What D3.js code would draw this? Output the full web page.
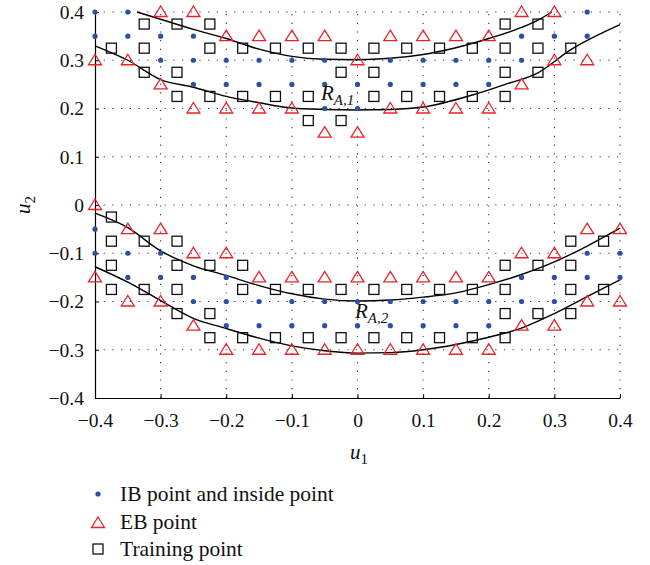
<!DOCTYPE html>
<html>
<head>
<meta charset="utf-8">
<script src="https://cdn.jsdelivr.net/npm/d3@7"></script>
<style>
  body { margin: 0; background: #fff; }
  svg text { font-family: "Liberation Serif", "DejaVu Serif", serif; fill: #111; }
</style>
</head>
<body>
<div id="chart"></div>
<script>
var width = 650, height = 565;

// rows: [u2, [u1 values]]
var ibRows = [
  [0.4, [-0.4, -0.35, 0.35]],
  [0.35, [-0.4, -0.35, -0.3, -0.25, 0.25, 0.3, 0.35]],
  [0.3, [-0.3, -0.25, -0.2, -0.15, -0.1, -0.05, 0.05, 0.1, 0.15, 0.2, 0.25]],
  [0.25, [-0.25, -0.2, -0.15, -0.1, -0.05, 0, 0.05, 0.1, 0.15, 0.2]],
  [0.2, [-0.05, 0]],
  [-0.05, [-0.4]],
  [-0.1, [-0.4, -0.35, -0.3, 0.35, 0.4]],
  [-0.15, [-0.35, -0.3, -0.25, -0.2, 0.25, 0.3, 0.35, 0.4]],
  [-0.2, [-0.25, -0.2, -0.15, -0.1, -0.05, 0, 0.05, 0.1, 0.15, 0.2, 0.25, 0.3]],
  [-0.25, [-0.2, -0.15, -0.1, -0.05, 0, 0.05, 0.1, 0.15, 0.2]]
];

var ebRows = [
  [0.4, [-0.3, -0.25, 0.25, 0.3]],
  [0.35, [-0.2, -0.15, -0.1, -0.05, 0.05, 0.1, 0.15, 0.2]],
  [0.3, [-0.4, -0.35, 0, 0.3, 0.35]],
  [0.25, [-0.3, 0.25]],
  [0.2, [-0.25, -0.2, -0.15, -0.1, 0.05, 0.1, 0.15, 0.2]],
  [0.15, [-0.05, 0]],
  [0, [-0.4]],
  [-0.05, [-0.35, -0.3, 0.35, 0.4]],
  [-0.1, [-0.25, -0.2, 0.25, 0.3]],
  [-0.15, [-0.4, -0.15, -0.1, -0.05, 0, 0.05, 0.1, 0.15, 0.2]],
  [-0.2, [-0.35, -0.3, 0.35, 0.4]],
  [-0.25, [-0.25, 0.25, 0.3]],
  [-0.3, [-0.2, -0.15, -0.1, -0.05, 0, 0.05, 0.1, 0.15, 0.2]]
];

var trainRows = [
  [0.375, [-0.325, -0.275, -0.225, 0.225, 0.275]],
  [0.325, [-0.375, -0.325, -0.225, -0.175, -0.125, -0.075, -0.025, 0.025, 0.075, 0.125, 0.175, 0.225, 0.275, 0.325]],
  [0.275, [-0.325, -0.275, -0.025, 0.025, 0.225, 0.275]],
  [0.225, [-0.275, -0.225, -0.175, -0.125, -0.075, 0.025, 0.075, 0.125, 0.175, 0.225]],
  [0.175, [-0.075, -0.025]],
  [-0.025, [-0.375]],
  [-0.075, [-0.375, -0.325, -0.275, 0.325, 0.375]],
  [-0.125, [-0.375, -0.275, -0.225, -0.175, 0.225, 0.275, 0.325]],
  [-0.175, [-0.375, -0.325, -0.275, -0.175, -0.125, -0.075, -0.025, 0.025, 0.075, 0.125, 0.175, 0.225, 0.325, 0.375]],
  [-0.225, [-0.275, -0.225, 0.225, 0.275, 0.325]],
  [-0.275, [-0.225, -0.175, -0.125, -0.075, -0.025, 0.025, 0.075, 0.125, 0.175, 0.225]]
];

// boundary curves [u1, u2]
var curveA1top = [[-0.336, 0.4], [-0.3, 0.385], [-0.25, 0.364], [-0.2, 0.345], [-0.15, 0.323], [-0.1, 0.308],
  [-0.05, 0.302], [0, 0.301], [0.05, 0.304], [0.1, 0.312], [0.15, 0.326], [0.2, 0.345], [0.25, 0.368], [0.275, 0.383], [0.296, 0.4]];
var curveA1bot = [[-0.4, 0.33], [-0.35, 0.3], [-0.3, 0.26], [-0.25, 0.244], [-0.2, 0.225], [-0.15, 0.212], [-0.1, 0.201],
  [-0.05, 0.198], [0, 0.197], [0.05, 0.198], [0.1, 0.203], [0.175, 0.228], [0.225, 0.25], [0.275, 0.274], [0.325, 0.322], [0.4, 0.374]];
var curveA2top = [[-0.4, -0.017], [-0.35, -0.047], [-0.3, -0.095], [-0.25, -0.126], [-0.2, -0.146], [-0.15, -0.167],
  [-0.1, -0.184], [-0.05, -0.195], [0, -0.199], [0.05, -0.197], [0.1, -0.191], [0.15, -0.182], [0.2, -0.165], [0.25, -0.144], [0.3, -0.118], [0.35, -0.085], [0.4, -0.048]];
var curveA2bot = [[-0.4, -0.128], [-0.35, -0.16], [-0.3, -0.198], [-0.25, -0.235], [-0.2, -0.256], [-0.15, -0.276],
  [-0.1, -0.292], [-0.05, -0.302], [0, -0.307], [0.05, -0.306], [0.1, -0.3], [0.15, -0.289], [0.2, -0.274], [0.25, -0.255], [0.3, -0.225], [0.35, -0.19], [0.4, -0.155]];

var tickVals = [-0.4, -0.3, -0.2, -0.1, 0, 0.1, 0.2, 0.3, 0.4];

var legendLabels = ["IB point and inside point", "EB point", "Training point"];

function flat(rows) {
  var out = [];
  rows.forEach(function (r) { r[1].forEach(function (u1) { out.push([u1, r[0]]); }); });
  return out;
}

var svg = d3.select("#chart").append("svg")
  .attr("width", width)
  .attr("height", height);

var x = d3.scaleLinear().domain([-0.4, 0.4]).range([95, 620]);
var y = d3.scaleLinear().domain([-0.4, 0.4]).range([398, 12]);

var fmt = function (d) { return d === 0 ? "0" : d3.format(".1f")(d); };

// dotted grid
var grid = svg.append("g").attr("stroke", "#333").attr("stroke-width", 1.1).attr("stroke-dasharray", "1.2,7.5");
grid.selectAll("line.v").data(tickVals.slice(1)).enter().append("line")
  .attr("x1", function (d) { return x(d); }).attr("x2", function (d) { return x(d); })
  .attr("y1", y(-0.4)).attr("y2", y(0.4));
grid.selectAll("line.h").data(tickVals.slice(1)).enter().append("line")
  .attr("y1", function (d) { return y(d); }).attr("y2", function (d) { return y(d); })
  .attr("x1", x(-0.4)).attr("x2", x(0.4));

// axes
var xAxis = svg.append("g").attr("transform", "translate(0," + y(-0.4) + ")")
  .call(d3.axisBottom(x).tickValues(tickVals).tickFormat(fmt).tickSize(-4).tickSizeOuter(0).tickPadding(15));
var yAxis = svg.append("g").attr("transform", "translate(" + x(-0.4) + ",0)")
  .call(d3.axisLeft(y).tickValues(tickVals).tickFormat(fmt).tickSize(-4).tickSizeOuter(0).tickPadding(11));
[xAxis, yAxis].forEach(function (a) {
  a.selectAll("text").style("font-size", "19.5px").attr("fill", "#111");
  a.select(".domain").attr("stroke", "#000").attr("stroke-width", 1.2);
  a.selectAll(".tick line").attr("stroke", "#000");
});

// curves
var line = d3.line()
  .x(function (d) { return x(d[0]); })
  .y(function (d) { return y(d[1]); })
  .curve(d3.curveMonotoneX);
svg.append("g").selectAll("path").data([curveA1top, curveA1bot, curveA2top, curveA2bot]).enter().append("path")
  .attr("d", line).attr("fill", "none").attr("stroke", "#000").attr("stroke-width", 1.4);

// markers
var triPath = "M0,-6L6.5,4.5L-6.5,4.5Z";
svg.append("g").selectAll("rect").data(flat(trainRows)).enter().append("rect")
  .attr("x", function (d) { return x(d[0]) - 5; })
  .attr("y", function (d) { return y(d[1]) - 5; })
  .attr("width", 10).attr("height", 10)
  .attr("fill", "none").attr("stroke", "#111").attr("stroke-width", 1.3);
svg.append("g").selectAll("path").data(flat(ebRows)).enter().append("path")
  .attr("transform", function (d) { return "translate(" + x(d[0]) + "," + y(d[1]) + ")"; })
  .attr("d", triPath)
  .attr("fill", "none").attr("stroke", "#e8232b").attr("stroke-width", 1.3);
svg.append("g").selectAll("circle").data(flat(ibRows)).enter().append("circle")
  .attr("cx", function (d) { return x(d[0]); })
  .attr("cy", function (d) { return y(d[1]); })
  .attr("r", 2.6).attr("fill", "#2f4fa2");

// region labels
function regionLabel(px, py, sub) {
  var t = svg.append("text").attr("x", px).attr("y", py).style("font-size", "21px").style("font-style", "italic");
  t.append("tspan").text("R");
  t.append("tspan").attr("dy", 5).style("font-size", "15px").text(sub);
}
regionLabel(321, 100, "A,1");
regionLabel(355, 318, "A,2");

// axis titles
var ux = svg.append("text").attr("x", 350).attr("y", 459).style("font-size", "21px").style("font-style", "italic");
ux.append("tspan").text("u");
ux.append("tspan").attr("dy", 5).style("font-size", "15px").style("font-style", "normal").text("1");
var uy = svg.append("text").attr("transform", "translate(30,214) rotate(-90)").style("font-size", "21px").style("font-style", "italic");
uy.append("tspan").text("u");
uy.append("tspan").attr("dy", 5).style("font-size", "15px").style("font-style", "normal").text("2");

// legend
var lg = svg.append("g");
var ly = [494, 522, 549];
lg.append("circle").attr("cx", 98).attr("cy", ly[0]).attr("r", 2.6).attr("fill", "#2f4fa2");
lg.append("path").attr("transform", "translate(98," + (ly[1] + 1) + ")").attr("d", triPath)
  .attr("fill", "none").attr("stroke", "#e8232b").attr("stroke-width", 1.3);
lg.append("rect").attr("x", 93).attr("y", ly[2] - 5).attr("width", 10).attr("height", 10)
  .attr("fill", "none").attr("stroke", "#111").attr("stroke-width", 1.3);
lg.selectAll("text").data(legendLabels).enter().append("text")
  .attr("x", 120).attr("y", function (d, i) { return ly[i] + 7; })
  .style("font-size", "21.5px").text(function (d) { return d; });
</script>
</body>
</html>
